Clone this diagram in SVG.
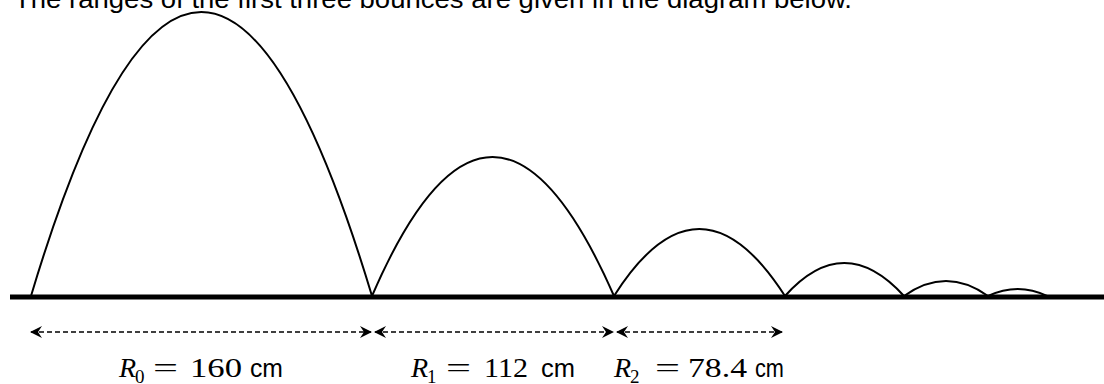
<svg xmlns="http://www.w3.org/2000/svg" width="1104" height="384" viewBox="0 0 1104 384">
<style>
.curve{fill:none;stroke:#000;stroke-width:2}
.ground{stroke:#000;stroke-width:5}
.dim{stroke:#000;stroke-width:1.5;stroke-dasharray:5 3;fill:none}
.t{font-family:"Liberation Sans",Arial,sans-serif;font-size:26px;fill:#000}
.m{font-family:"Liberation Serif","DejaVu Serif",serif;font-size:28px;fill:#000}
.r{font-family:"Liberation Serif","DejaVu Serif",serif;font-size:28px;font-style:italic;fill:#000}
.sub{font-family:"Liberation Serif","DejaVu Serif",serif;font-size:19px;fill:#000}
.s{font-family:"Liberation Sans",Arial,sans-serif;font-size:26px;fill:#000}
</style>
<defs>
<marker id="ah" viewBox="0 0 12 12" refX="11" refY="6" markerWidth="12" markerHeight="12" markerUnits="userSpaceOnUse" orient="auto-start-reverse">
<path d="M0,0 L12,6 L0,12 L4,6 Z" fill="#000"/>
</marker>
</defs>
<text class="t" x="14" y="8" textLength="838" lengthAdjust="spacingAndGlyphs">The ranges of the first three bounces are given in the diagram below.</text>
<g id="ground"><line class="ground" x1="10" y1="297" x2="1104" y2="297"/></g>
<g id="bounces">
<path id="b1" class="curve" d="M31,296 Q201,-272 372,296"/>
<path id="b2" class="curve" d="M372,296 Q492,18 614,296"/>
<path id="b3" class="curve" d="M614,296 Q699,162 785,296"/>
<path id="b4" class="curve" d="M785,296 Q844,230 904,296"/>
<path id="b5" class="curve" d="M904,296 Q946,266 988,296"/>
<path id="b6" class="curve" d="M988,296 Q1018,282 1047,296"/>
</g>
<g id="connectors">
<line class="dim" x1="31" y1="332" x2="371" y2="332" marker-start="url(#ah)" marker-end="url(#ah)"/>
<line class="dim" x1="375" y1="332" x2="613" y2="332" marker-start="url(#ah)" marker-end="url(#ah)"/>
<line class="dim" x1="617" y1="332" x2="782" y2="332" marker-start="url(#ah)" marker-end="url(#ah)"/>
</g>
<g id="label0">
<text class="r" x="119" y="377">R</text>
<text class="sub" x="135" y="383">0</text>
<text class="m" x="153" y="377" textLength="25" lengthAdjust="spacingAndGlyphs">=</text>
<text class="m" x="190" y="377" textLength="52" lengthAdjust="spacingAndGlyphs">160</text>
<text class="s" x="250" y="377" textLength="33" lengthAdjust="spacingAndGlyphs">cm</text>
</g>
<g id="label1">
<text class="r" x="411" y="377">R</text>
<text class="sub" x="427" y="383">1</text>
<text class="m" x="446" y="377" textLength="25" lengthAdjust="spacingAndGlyphs">=</text>
<text class="m" x="484" y="377" textLength="44" lengthAdjust="spacingAndGlyphs">112</text>
<text class="s" x="541" y="377" textLength="34" lengthAdjust="spacingAndGlyphs">cm</text>
</g>
<g id="label2">
<text class="r" x="614" y="377">R</text>
<text class="sub" x="630" y="383">2</text>
<text class="m" x="655" y="377" textLength="25" lengthAdjust="spacingAndGlyphs">=</text>
<text class="m" x="688" y="377" textLength="59" lengthAdjust="spacingAndGlyphs">78.4</text>
<text class="s" x="755" y="377" textLength="29" lengthAdjust="spacingAndGlyphs">cm</text>
</g>
</svg>
